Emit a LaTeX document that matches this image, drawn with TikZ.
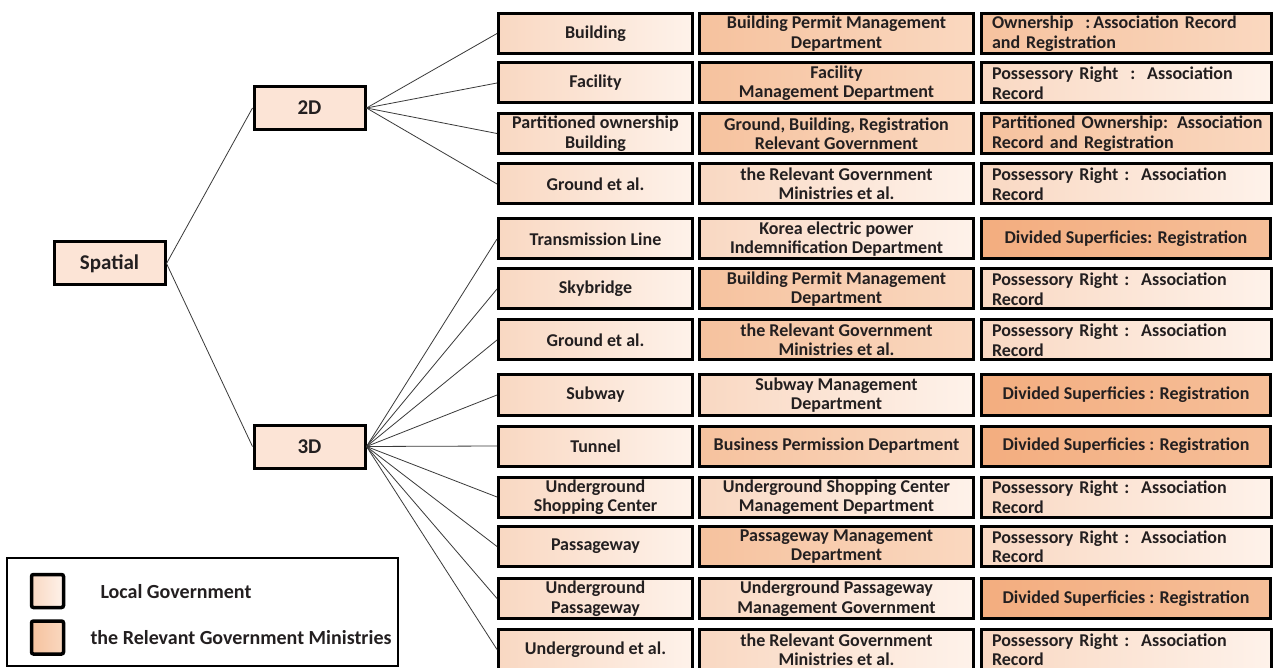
\documentclass[tikz,border=0pt]{standalone}
\usepackage{fontspec}
\setmainfont{Carlito}
\definecolor{txt}{HTML}{231F20}
\definecolor{lcA}{HTML}{F9D8C2}
\definecolor{lcB}{HTML}{FEF2EA}
\definecolor{dcA}{HTML}{F6C29E}
\definecolor{dcB}{HTML}{FAD8C0}
\definecolor{scA}{HTML}{F3AD7F}
\definecolor{scB}{HTML}{F6BF99}
\definecolor{rootfill}{HTML}{FCE4D6}
\definecolor{wire}{HTML}{3A3A3A}
\begin{document}
\hyphenpenalty=10000
\exhyphenpenalty=10000
\begin{tikzpicture}[x=1pt,y=-1pt,
  every node/.style={font=\fontsize{18}{19.5}\selectfont\bfseries, text=txt},
  cellbase/.style={draw=black, line width=3pt, minimum height=40pt, inner sep=0pt, align=center},
  lc/.style={cellbase, left color=lcA, right color=lcB},
  dc/.style={cellbase, left color=dcA, right color=dcB},
  sc/.style={cellbase, left color=scA, right color=scB},
  colA/.style={minimum width=194pt},
  colB/.style={minimum width=274pt},
  leftcell/.style={text width=268pt, inner xsep=11pt, align=left},
  midcell/.style={minimum width=289pt},
  c3L/.style={lc, leftcell},
  c3D/.style={dc, leftcell},
  c3S/.style={sc, midcell},
  levelbox/.style={draw=black, line width=3pt, fill=rootfill, minimum width=111pt, minimum height=43pt, inner sep=0pt, font=\fontsize{21}{23}\selectfont\bfseries},
  conn/.style={draw=wire, line width=0.8pt},
  keybox/.style={draw=black, line width=3.5pt, rounded corners=2pt, minimum width=32pt, minimum height=33pt, inner sep=0pt},
  keytext/.style={anchor=west, font=\fontsize{20}{22}\selectfont\bfseries}]
\clip (0,0) rectangle (1275,668);
\fill[white] (0,0) rectangle (1275,668);

% tree levels
\node[levelbox] (sp) at (109.5,263.5) {Spatial};
\node[levelbox] (d2) at (309.5,108) {2D};
\node[levelbox] (d3) at (309.5,446.5) {3D};

% table rows: object / managing body / right
\foreach \i/\y/\sa/\ta/\sb/\tb/\sc/\tc in {
 1/33.5/lc/{Building}/dc/{Building Permit Management\\Department}/c3D/{\mbox{Ownership\ \ :\,Association Record}\\and Registration},
 2/83/lc/{Facility}/dc/{Facility\\Management Department}/c3L/{\mbox{Possessory Right\ \ :\ \ Association}\\Record},
 3/133.5/lc/{Partitioned ownership\\Building}/dc/{Ground, Building, Registration\\Relevant Government}/c3D/{\mbox{Partitioned Ownership: Association}\\Record and Registration},
 4/184/lc/{Ground et al.}/lc/{the Relevant Government\\Ministries et al.}/c3L/{\mbox{Possessory Right :\ \ Association}\\Record},
 5/239/lc/{Transmission Line}/lc/{Korea electric power\\Indemnification Department}/c3S/{Divided Superficies: Registration},
 6/289/lc/{Skybridge}/dc/{Building Permit Management\\Department}/c3L/{\mbox{Possessory Right :\ \ Association}\\Record},
 7/340/lc/{Ground et al.}/dc/{the Relevant Government\\Ministries et al.}/c3L/{\mbox{Possessory Right :\ \ Association}\\Record},
 8/395/lc/{Subway}/lc/{Subway Management\\Department}/c3S/{Divided Superficies : Registration},
 9/446/lc/{Tunnel}/dc/{Business Permission Department}/c3S/{Divided Superficies : Registration},
 10/497/lc/{Underground\\Shopping Center}/lc/{Underground Shopping Center\\Management Department}/c3L/{\mbox{Possessory Right :\ \ Association}\\Record},
 11/546.5/lc/{Passageway}/dc/{Passageway Management\\Department}/c3L/{\mbox{Possessory Right :\ \ Association}\\Record},
 12/598.5/lc/{Underground\\Passageway}/lc/{Underground Passageway\\Management Government}/c3S/{Divided Superficies : Registration},
 13/649.5/lc/{Underground et al.}/lc/{the Relevant Government\\Ministries et al.}/c3L/{\mbox{Possessory Right :\ \ Association}\\Record}}
{
  \node[\sa, colA] (a\i) at (595.5,\y) {\ta};
  \node[\sb, colB] (b\i) at (836.5,\y) {\tb};
  \node[\sc, minimum height=40pt] (c\i) at (1126,\y) {\tc};
}

% connectors
\draw[conn] (sp.east) -- (d2.west);
\draw[conn] (sp.east) -- (d3.west);
\foreach \i in {1,...,4} \draw[conn] (d2.east) -- (a\i.west);
\foreach \i in {5,...,13} \draw[conn] (d3.east) -- (a\i.west);

% key
\draw[black, line width=1.5pt] (7,558) rectangle (398,666);
\node[keybox, left color=lcA, right color=lcB] (k1) at (47.5,591) {};
\node[keybox, left color=dcA, right color=dcB] (k2) at (47.5,637.5) {};
\node[keytext] (t1) at (97,592) {Local Government};
\node[keytext] (t2) at (87,638) {the Relevant Government\ Ministries};
\end{tikzpicture}
\end{document}
